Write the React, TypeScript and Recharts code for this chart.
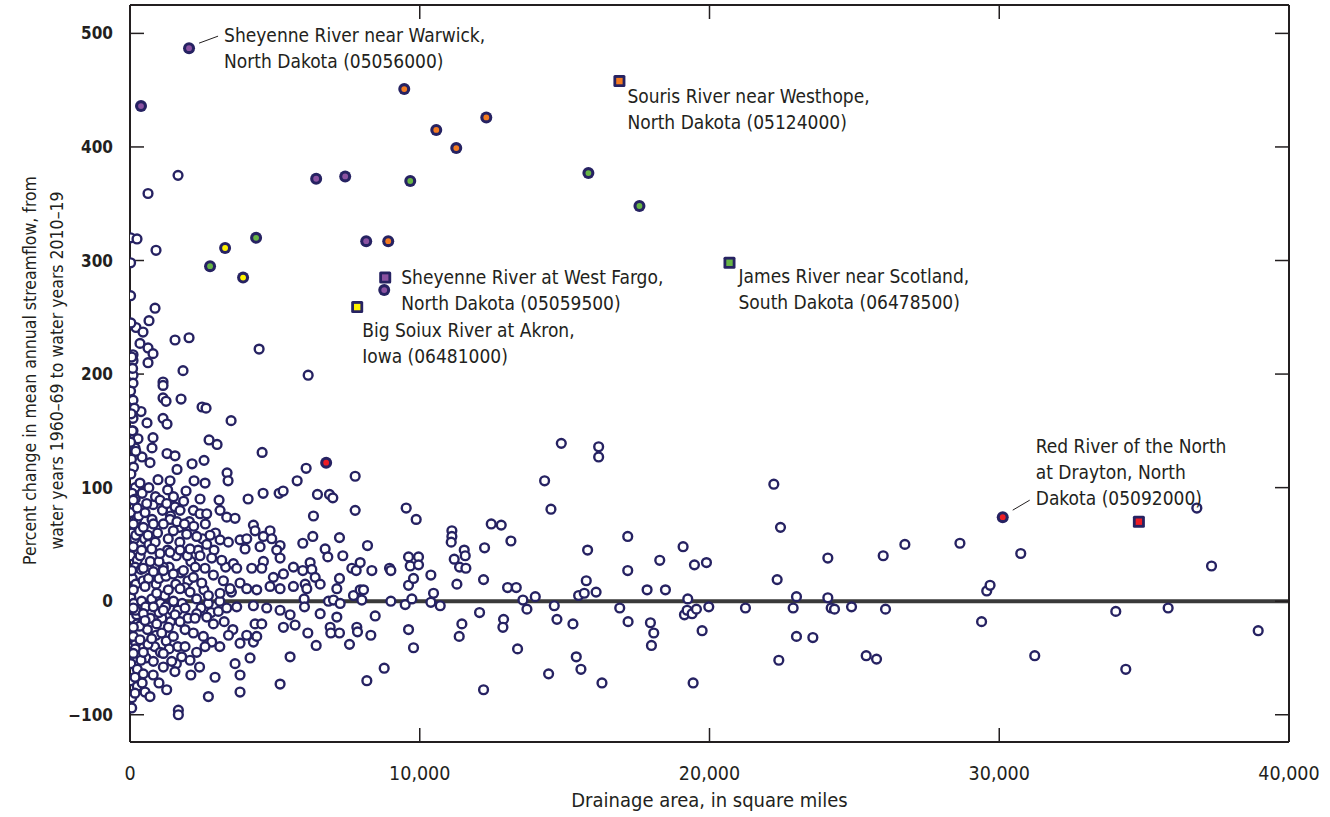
import { ScatterChart, Scatter, XAxis, YAxis, ReferenceLine, ReferenceDot } from 'recharts';

const FONT = '"Liberation Sans Narrow", "Arial Narrow", "DejaVu Sans Condensed", sans-serif';
const NAVY = '#262262';
const INK = '#231f20';

const xTicks = [0, 10000, 20000, 30000, 40000];
const yTicks = [-100, 0, 100, 200, 300, 400, 500];

// open circles: [drainage area, percent change]
const upperSites: [number, number][] = [
  [622, 359], [1658, 375], [20, 320], [242, 319], [898, 309], [20, 298], [20, 269], [864, 258],
  [656, 247], [207, 241], [449, 237], [1554, 230], [2038, 232], [345, 227], [622, 223], [794, 218],
  [104, 217], [104, 212], [622, 210], [4456, 222], [1830, 203], [6149, 199], [104, 199], [104, 192],
  [1140, 193], [1140, 190], [104, 177], [1140, 179], [1244, 176], [1762, 178], [380, 167], [2487, 171],
  [2625, 170], [104, 161], [1140, 161], [587, 157], [1278, 156], [3489, 159], [104, 150], [794, 144],
  [276, 143], [2729, 142], [3005, 138], [173, 135], [760, 135], [4560, 131], [1278, 130], [1554, 128],
  [414, 127], [2142, 121], [2556, 124], [690, 122], [1623, 116], [3350, 113], [3385, 106], [5769, 106],
  [2211, 106], [2591, 104], [1382, 106], [967, 107], [1934, 97], [4594, 95], [5147, 95], [5285, 97],
  [4076, 90], [3074, 89], [2418, 90],
];

const clusterSites: [number, number][] = [
  [345, 104], [115, 89], [576, 86], [1036, 89], [1266, 86], [1554, 83], [1727, 80], [2187, 80],
  [2417, 77], [2647, 77], [3108, 80], [3338, 74], [3626, 73], [4259, 67], [4834, 62],
  [115, 68], [460, 65], [806, 68], [1151, 68], [1496, 62], [1957, 59], [2302, 57], [2762, 58],
  [3108, 54], [3395, 52], [3798, 54], [4029, 55], [4316, 62], [4604, 57], [4892, 55], [5180, 49],
  [115, 48], [403, 45], [748, 46], [1036, 42], [1381, 43], [1727, 45], [2072, 46], [2417, 40],
  [2820, 38], [3165, 36], [3568, 33], [3971, 46], [4489, 48], [5064, 45], [4604, 35], [5180, 38],
  [58, 27], [460, 29], [806, 26], [1151, 27], [1496, 24], [1842, 27], [2187, 21], [2590, 29],
  [2878, 23], [3223, 18], [3683, 29], [4201, 29], [4547, 29], [4949, 21], [5295, 24], [5640, 30],
  [115, 10], [518, 13], [921, 7], [1324, 10], [1727, 11], [2072, 8], [2475, 16], [2705, 5],
  [3108, 7], [3453, 11], [3798, 16], [4029, 11], [4374, 10], [4834, 13], [5180, 11], [5640, 13],
  [115, -6], [460, -11], [806, -5], [1151, -8], [1554, -12], [1899, -6], [2302, -11], [2647, -14],
  [3050, -9], [3338, -6], [3683, -5], [4259, -4], [4719, -6], [5180, -8], [5525, -12],
  [115, -23], [518, -17], [921, -20], [1324, -23], [1727, -18], [2244, -15], [2878, -20], [4316, -20],
  [4547, -20], [5295, -23], [5697, -21],
  [115, -31], [345, -34], [748, -33], [1093, -28], [1496, -31], [2187, -28], [2532, -31], [2820, -36],
  [2590, -40], [3798, -37], [4029, -30], [4259, -36], [4374, -31], [5525, -49],
  [115, -46], [460, -45], [806, -53], [1151, -58], [1439, -53], [1784, -49], [2072, -52], [1151, -46],
  [3626, -55], [4144, -50], [173, -67], [460, -64], [2935, -67], [3798, -65], [5180, -73], [173, -81],
  [518, -80], [690, -84], [1266, -78], [2705, -84], [3798, -80], [58, -94], [1669, -96], [1669, -100],
];

const axisSites: [number, number][] = [
  [30, 245], [60, 215], [90, 205], [20, 185], [150, 170], [40, 165], [80, 150], [20, 140], [200, 132],
  [50, 125], [120, 118], [30, 112], [180, 100], [70, 95], [20, 78], [230, 72], [60, 60], [160, 55],
  [20, 40], [250, 36], [80, 20], [200, 15], [30, 3], [130, -2], [60, -15], [230, -12], [20, -28],
  [100, -40], [200, -37], [30, -55], [140, -70], [60, -85], [250, -60], [20, -70],
  [300, 75], [500, 55], [700, 35], [900, 15], [1100, -15], [1300, 45], [1500, 0], [1700, 65],
  [1900, -25], [2100, 35], [400, 0], [600, -25], [800, 85], [1000, 20], [1200, 5], [1400, 75],
  [1600, 40], [1800, -2], [2000, 18], [2300, 2], [2500, 55], [2700, -2], [2900, 45], [3100, 0],
  [350, 40], [650, 50], [950, 60], [1250, -35], [1650, -40], [2050, 70], [450, 18], [750, 2],
  [1050, -2], [1350, 30], [1750, 25], [250, -20], [550, -50], [850, -40], [1150, 30], [1450, -8],
];

const denseSites: [number, number][] = [
  [180, 90], [420, 95], [650, 100], [880, 92], [1300, 98], [1500, 92], [1850, 88],
  [250, 82], [520, 78], [760, 72], [1120, 80], [1380, 72], [1620, 70], [1880, 68], [2200, 66], [2600, 68],
  [200, 58], [330, 62], [620, 58], [870, 52], [1320, 55], [1720, 52], [1980, 40], [2350, 45], [2650, 50], [2950, 60],
  [180, 30], [380, 28], [640, 20], [1000, 35], [1240, 22], [1580, 15], [1900, 12], [2250, 30], [2550, 10],
  [3300, 30], [3500, 8], [200, -8], [330, -22], [540, -5], [700, -15], [1000, -10], [1230, -5], [1400, -18],
  [1650, -8], [2000, -15], [2450, -6], [2800, -10], [3250, -18], [3550, -25],
  [180, -42], [380, -52], [620, -38], [900, -30], [1050, -45], [1350, -42], [1600, -55], [1900, -40],
  [2300, -45], [2400, -58], [3100, -40], [3400, -30],
  [250, -75], [420, -72], [800, -65], [1000, -72], [1550, -62], [2100, -65],
];

const midSites: [number, number][] = [
  [6079, 117], [7771, 110], [6470, 94], [6885, 94], [7000, 91], [6332, 75], [7771, 80], [9532, 82],
  [9877, 72], [5964, 51], [6309, 57], [6735, 46], [6827, 39], [7230, 56], [7345, 40], [8197, 49],
  [6217, 34], [5964, 27], [6275, 28], [6390, 21], [6563, 15], [7230, 20], [7138, 11], [7656, 29],
  [7806, 27], [7944, 34], [8347, 27], [8957, 29], [9003, 27], [6045, 15], [6102, 11], [6010, 2],
  [6022, -5], [6850, 0], [7023, 1], [7253, -2], [7714, 5], [7944, 10], [8059, 10], [8001, 1],
  [9003, 0], [9498, -3], [9728, 2], [9613, 14], [9785, 20], [9613, 39], [9958, 39], [9671, 31],
  [9958, 32], [10384, 23], [10476, 7], [10384, -1], [10706, -4], [6563, -11], [7138, -14], [6908, -23],
  [6931, -28], [7230, -28], [7828, -23], [7852, -27], [8462, -13], [8312, -30], [6137, -28], [6425, -39],
  [7575, -38], [9613, -25], [9785, -41], [8174, -70], [8773, -59], [11109, 62], [11109, 57], [11086, 52],
  [11190, 37], [11374, 30], [11535, 45], [11570, 40], [11592, 29], [11282, 15], [12064, -10], [11454, -20],
  [11362, -31], [12202, -78], [12237, 47], [12202, 19], [12467, 68], [12812, 67], [13146, 53], [13031, 12],
  [13331, 12], [13561, 1], [13699, -7], [13987, 4], [12893, -16], [12870, -23], [13376, -42], [14309, 106],
  [14528, 81], [14885, 139], [14643, -4], [14735, -16], [15287, -20], [15402, -49], [15563, -60], [14447, -64],
  [15793, 45], [15747, 18], [15483, 5], [15678, 7], [16086, 8], [16174, 136], [16174, 127], [16289, -72],
];

const eastSites: [number, number][] = [
  [22220, 103], [22450, 65], [17178, 57], [17178, 27], [18283, 36], [19089, 48], [19480, 32], [19895, 34],
  [17846, 10], [18479, 10], [19250, 2], [16902, -6], [17190, -18], [17961, -19], [18076, -28], [17996, -39],
  [19135, -12], [19227, -8], [19400, -11], [19549, -7], [19975, -5], [19745, -26], [21241, -6], [22335, 19],
  [23002, 4], [22887, -6], [23002, -31], [22392, -52], [23567, -32], [24084, 38], [24084, 3], [24200, -6],
  [24315, -7], [24902, -5], [25995, 40], [26075, -7], [25408, -48], [25765, -51], [26743, 50], [28643, 51],
  [29390, -18], [19435, -72], [30742, 42], [29568, 9], [29683, 14], [31225, -48], [34022, -9], [34367, -60],
  [35829, -6], [36819, 82], [37326, 31], [38937, -26],
];

// highlighted sites
const purpleSites: [number, number][] = [[2038, 487], [380, 436], [6425, 372], [7427, 374], [8152, 317], [8774, 274]];
const orangeSites: [number, number][] = [[9465, 451], [10570, 415], [11260, 399], [12297, 426], [8912, 317]];
const greenSites: [number, number][] = [[9672, 370], [4352, 320], [2763, 295], [15820, 377], [17582, 348]];
const yellowSites: [number, number][] = [[3282, 311], [3903, 285]];
const redSites: [number, number][] = [[6770, 122], [30120, 74]];
const squareSites: [number, number, string][] = [
  [8808, 285, 'purple'], [7841, 259, 'yellow'], [16891, 458, 'orange'], [20690, 298, 'green'], [34819, 70, 'red'],
];

const colors: Record<string, string> = {
  purple: '#8b52a1',
  orange: '#f47b20',
  green: '#68b545',
  yellow: '#fff200',
  red: '#ed1c24',
};

const notes = [
  { at: [2038, 487], lines: ['Sheyenne River near Warwick,', 'North Dakota (05056000)'], dx: 35, dy: -6, leader: [10, -5, 29, -12] },
  { at: [16891, 458], lines: ['Souris River near Westhope,', 'North Dakota (05124000)'], dx: 8, dy: 22 },
  { at: [8808, 285], lines: ['Sheyenne River at West Fargo,', 'North Dakota (05059500)'], dx: 16, dy: 6 },
  { at: [7841, 259], lines: ['Big Soiux River at Akron,', 'Iowa (06481000)'], dx: 5, dy: 30 },
  { at: [20690, 298], lines: ['James River near Scotland,', 'South Dakota (06478500)'], dx: 9, dy: 20 },
  { at: [30120, 74], lines: ['Red River of the North', 'at Drayton, North', 'Dakota (05092000)'], dx: 33, dy: -64, leader: [10, -7, 27, -17] },
];

const toPoints = (arr: [number, number][]) => arr.map(([x, y]) => ({ x, y }));

const openSites = toPoints([...upperSites, ...axisSites, ...denseSites, ...clusterSites, ...midSites, ...eastSites]);

const OpenDot = (p: any) => (
  <circle cx={p.cx} cy={p.cy} r={4.4} fill="#fff" stroke={NAVY} strokeWidth={2.4} />
);

const filledDot = (color: string) => (p: any) => (
  <g>
    <circle cx={p.cx} cy={p.cy} r={6} fill={NAVY} />
    <circle cx={p.cx} cy={p.cy} r={2.9} fill={color} />
  </g>
);

const SquareDot = (p: any) => (
  <g>
    <rect x={p.cx - 6} y={p.cy - 6} width={12} height={12} rx={1.5} fill={NAVY} />
    <rect x={p.cx - 3.2} y={p.cy - 3.2} width={6.4} height={6.4} fill={colors[p.payload.c]} />
  </g>
);

const Nothing = () => <g />;

const fmtY = (v: number) => (v < 0 ? `\u2212${-v}` : `${v}`);
const fmtX = (v: number) => v.toLocaleString('en-US');

const YTitle = (props: any) => {
  const vb = props.viewBox;
  const cy = vb.y + vb.height / 2 - 3;
  return (
    <g fontFamily={FONT} fontSize={17.5} fill={INK}>
      <text x={30} y={cy} transform={`rotate(-90 30 ${cy})`} textAnchor="middle" dominantBaseline="central">
        Percent change in mean annual streamflow, from
      </text>
      <text x={57} y={cy} transform={`rotate(-90 57 ${cy})`} textAnchor="middle" dominantBaseline="central">
        water years 1960–69 to water years 2010–19
      </text>
    </g>
  );
};

const XTitle = (props: any) => {
  const vb = props.viewBox;
  return (
    <text x={vb.x + vb.width / 2} y={vb.y + 65} textAnchor="middle" fontFamily={FONT} fontSize={20} fill={INK}>
      Drainage area, in square miles
    </text>
  );
};

const noteLabel = (n: (typeof notes)[number]) => (props: any) => {
  const vb = props.viewBox;
  const cx = vb.x + vb.width / 2;
  const cy = vb.y + vb.height / 2;
  return (
    <g>
      {n.leader && (
        <line
          x1={cx + n.leader[0]} y1={cy + n.leader[1]} x2={cx + n.leader[2]} y2={cy + n.leader[3]}
          stroke={INK} strokeWidth={1}
        />
      )}
      <text fontFamily={FONT} fontSize={19} fill={INK}>
        {n.lines.map((l, i) => (
          <tspan key={i} x={cx + n.dx} y={cy + n.dy + i * 26}>{l}</tspan>
        ))}
      </text>
    </g>
  );
};

const axisStyle = { stroke: INK, strokeWidth: 2 };
const tickStyle = { stroke: INK, strokeWidth: 1.5 };

const App = () => {
  return (
    <div style={{ position: 'absolute', left: 0, top: 0, width: 1330, height: 817, background: '#fff' }}>
      <ScatterChart width={1330} height={817} margin={{ top: 4, right: 40, bottom: 0, left: 0 }}>
        <XAxis
          type="number" dataKey="x" xAxisId="b" domain={[0, 40000]} ticks={xTicks} interval={0}
          height={75} tickSize={-14} tickMargin={38} tickFormatter={fmtX}
          axisLine={axisStyle} tickLine={tickStyle}
          tick={{ fontFamily: FONT, fontSize: 19.5, fill: INK }}
          label={<XTitle />}
          allowDataOverflow
        />
        <XAxis
          type="number" dataKey="x" xAxisId="t" orientation="top" domain={[0, 40000]} ticks={xTicks} interval={0}
          height={1} tickSize={-14} tick={Nothing} axisLine={axisStyle} tickLine={tickStyle} allowDataOverflow
        />
        <YAxis
          type="number" dataKey="y" yAxisId="l" domain={[-124, 525]} ticks={yTicks} interval={0}
          width={130} tickSize={-14} tickMargin={31} tickFormatter={fmtY}
          axisLine={axisStyle} tickLine={tickStyle}
          tick={{ fontFamily: FONT, fontSize: 17, fontWeight: 'bold', fill: INK }}
          label={<YTitle />}
          allowDataOverflow
        />
        <YAxis
          type="number" dataKey="y" yAxisId="r" orientation="right" domain={[-124, 525]} ticks={yTicks} interval={0}
          width={1} tickSize={-14} tick={Nothing} axisLine={axisStyle} tickLine={tickStyle} allowDataOverflow
        />
        <Scatter
          xAxisId="t" yAxisId="r" data={toPoints(redSites)} shape={Nothing}
          isAnimationActive={false} legendType="none"
        />
        <Scatter xAxisId="b" yAxisId="l" data={openSites} shape={OpenDot} isAnimationActive={false} />
        <ReferenceLine xAxisId="b" yAxisId="l" y={0} stroke="#3a3a3a" strokeWidth={4} />
        <Scatter xAxisId="b" yAxisId="l" data={toPoints(purpleSites)} shape={filledDot(colors.purple)} isAnimationActive={false} />
        <Scatter xAxisId="b" yAxisId="l" data={toPoints(orangeSites)} shape={filledDot(colors.orange)} isAnimationActive={false} />
        <Scatter xAxisId="b" yAxisId="l" data={toPoints(greenSites)} shape={filledDot(colors.green)} isAnimationActive={false} />
        <Scatter xAxisId="b" yAxisId="l" data={toPoints(yellowSites)} shape={filledDot(colors.yellow)} isAnimationActive={false} />
        <Scatter xAxisId="b" yAxisId="l" data={toPoints(redSites)} shape={filledDot(colors.red)} isAnimationActive={false} />
        <Scatter
          xAxisId="b" yAxisId="l"
          data={squareSites.map(([x, y, c]) => ({ x, y, c }))}
          shape={SquareDot} isAnimationActive={false}
        />
        {notes.map((n, i) => (
          <ReferenceDot
            key={i} xAxisId="b" yAxisId="l" x={n.at[0]} y={n.at[1]} r={0}
            fill="none" stroke="none" label={noteLabel(n)}
          />
        ))}
      </ScatterChart>
    </div>
  );
};

export default App;
